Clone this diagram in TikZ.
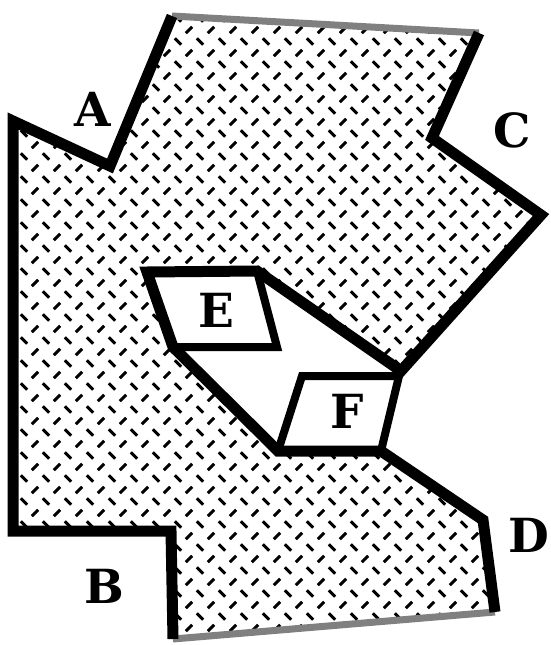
\documentclass[tikz,border=0pt]{standalone}
\usepackage{fontspec}
\setmainfont{DejaVu Serif}
\begin{document}
\begin{tikzpicture}[x=1pt,y=-1pt,
  wall/.style={line width=11pt, line join=miter, line cap=butt},
  room/.style={line width=8pt, line join=miter},
  fade/.style={line width=7pt, black!50},
  hatch/.style={line width=2.9pt},
  lbl/.style={font=\bfseries\fontsize{47}{47}\selectfont, inner sep=0pt, anchor=base}]
\useasboundingbox (0,0) rectangle (550,645);
% vertices
\coordinate (t1) at (172,16);
\coordinate (t2) at (479,33);
\coordinate (c1) at (432,138);
\coordinate (c2) at (541,215);
\coordinate (v)  at (401,371);
\coordinate (e1) at (257,271);
\coordinate (e0) at (147,272);
\coordinate (e3) at (173,347);
\coordinate (e2) at (277,347);
\coordinate (f0) at (278,451);
\coordinate (f3) at (302,376);
\coordinate (f2) at (399,376);
\coordinate (f1) at (381,451);
\coordinate (d1) at (483,520);
\coordinate (d2) at (495,612);
\coordinate (b2) at (173,639);
\coordinate (b1) at (171,531);
\coordinate (l2) at (13,531);
\coordinate (l1) at (13,121);
\coordinate (a1) at (110,166);
% hatched region
\begin{scope}
\clip (t1) -- (t2) -- (c1) -- (c2) -- (v) -- (e1) -- (e0) -- (e3) -- (f0) -- (f1) -- (d1) -- (d2) -- (b2) -- (b1) -- (l2) -- (l1) -- (a1) -- cycle;
\foreach \i in {0,...,25} {
  \foreach \j in {0,...,28} {
    \draw[hatch] ({22*\i+13-3.2},{23*\j+7+3.2}) -- ++(6.4,-6.4);
    \draw[hatch] ({22*\i+24-3.2},{23*\j+18.5-3.2}) -- ++(6.4,6.4);
  }
}
\end{scope}
% faded edges
\draw[fade] (t1) -- (t2);
\draw[fade] (d2) -- (b2);
% rooms
\draw[room] (e1) -- (e2) -- (e3);
\draw[room] (f0) -- (f3) -- (f2) -- (f1);
% walls
\draw[wall] (t2) -- (c1) -- (c2) -- (v) -- (e1) -- (e0) -- (e3) -- (f0) -- (f1) -- (d1) -- (d2);
\draw[wall] (b2) -- (b1) -- (l2) -- (l1) -- (a1) -- (t1);
% labels
\node[lbl] (A) at (93,126) {A};
\node[lbl] (B) at (104,603) {B};
\node[lbl] (C) at (512,147) {C};
\node[lbl] (D) at (529,552) {D};
\node[lbl] (E) at (216,327) {E};
\node[lbl] (F) at (347,428) {F};
\end{tikzpicture}
\end{document}
